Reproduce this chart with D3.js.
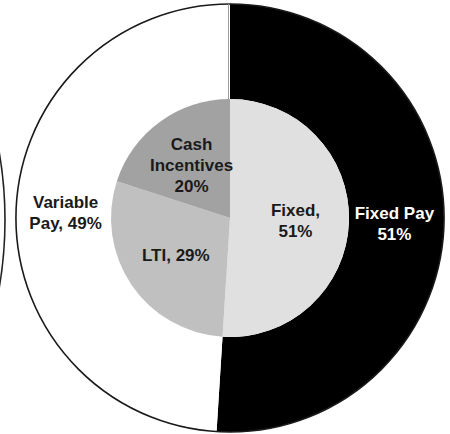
<!DOCTYPE html>
<html>
<head>
<meta charset="utf-8">
<script src="https://cdn.jsdelivr.net/npm/d3@7"></script>
<style>
  html, body { margin: 0; padding: 0; background: #fff; }
  svg { display: block; }
  text { font-family: "Liberation Sans", Arial, Helvetica, sans-serif; font-weight: bold; font-size: 17px; }
</style>
</head>
<body>
<svg id="chart" width="450" height="434"></svg>
<script>
// outer ring: fixed vs variable pay
const outerLabels = [["Fixed Pay", "51%"], ["Variable", "Pay, 49%"]];
const outerValues = [51, 49];
const outerColors = ["#000000", "#ffffff"];
const outerText = ["#ffffff", "#1a1a1a"];

// inner pie: pay components
const innerLabels = [["Fixed,", "51%"], ["LTI, 29%"], ["Cash", "Incentives", "20%"]];
const innerValues = [51, 29, 20];
const innerColors = ["#e0e0e0", "#c0c0c0", "#a2a2a2"];

const svg = d3.select("#chart");
const cx = 230, cy = 218;
const R = 214, r = 119;

// piece of the neighbouring chart cut off at the left edge
svg.append("circle")
  .attr("cx", -392)
  .attr("cy", 220)
  .attr("r", 397)
  .attr("fill", "none")
  .attr("stroke", "#222")
  .attr("stroke-width", 1.6);

const g = svg.append("g").attr("transform", `translate(${cx},${cy})`);

const pie = d3.pie().sort(null).value(d => d);

const outerArc = d3.arc().innerRadius(r).outerRadius(R);
const outerLabelArc = d3.arc().innerRadius(r).outerRadius(R - 4);

g.selectAll("path.outer")
  .data(pie(outerValues))
  .join("path")
  .attr("class", "outer")
  .attr("d", outerArc)
  .attr("fill", (d, i) => outerColors[i]);

// outline of the white ring
g.append("path")
  .attr("d", d3.arc()({ innerRadius: R, outerRadius: R, startAngle: 0, endAngle: 2 * Math.PI }))
  .attr("fill", "none")
  .attr("stroke", "#1a1a1a")
  .attr("stroke-width", 1.6);

const innerArc = d3.arc().innerRadius(0).outerRadius(r);
const innerLabelArc = d3.arc().innerRadius(0).outerRadius(r + 12);

g.selectAll("path.inner")
  .data(pie(innerValues))
  .join("path")
  .attr("class", "inner")
  .attr("d", innerArc)
  .attr("fill", (d, i) => innerColors[i]);

// thin seam between the two outer slices at the top
g.append("line")
  .attr("x1", -1.5).attr("x2", -1.5)
  .attr("y1", -R).attr("y2", -r)
  .attr("stroke", "#9a9a9a")
  .attr("stroke-width", 1);

const lineH = 21;

function addLabels(arcs, arcGen, labels, colors) {
  arcs.forEach((d, i) => {
    const [x, y] = arcGen.centroid(d);
    const lines = labels[i];
    const t = g.append("text")
      .attr("text-anchor", "middle")
      .attr("fill", colors[i]);
    lines.forEach((s, j) => {
      t.append("tspan")
        .attr("x", x)
        .attr("y", y + (j - (lines.length - 1) / 2) * lineH)
        .attr("dy", "0.35em")
        .text(s);
    });
  });
}

addLabels(pie(outerValues), outerLabelArc, outerLabels, outerText);
addLabels(pie(innerValues), innerLabelArc, innerLabels, ["#1a1a1a", "#1a1a1a", "#1a1a1a"]);
</script>
</body>
</html>
